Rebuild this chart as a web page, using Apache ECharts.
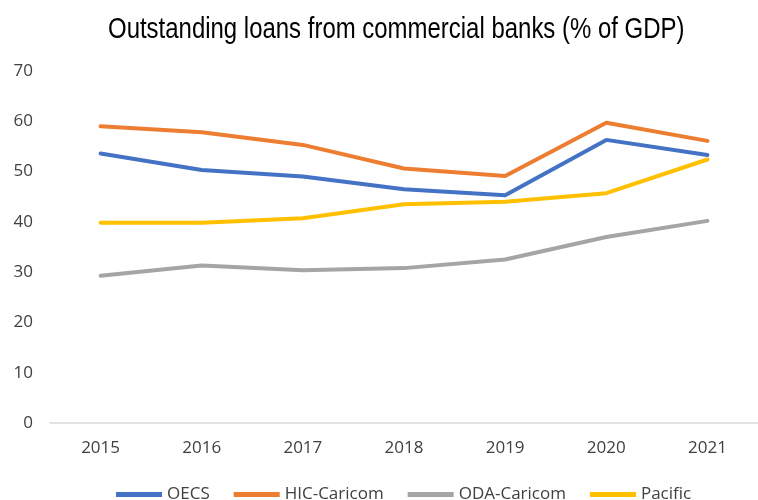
<!DOCTYPE html>
<html>
<head>
<meta charset="utf-8">
<script src="https://cdn.jsdelivr.net/npm/echarts@6/dist/echarts.min.js"></script>
<style>
  html, body { margin: 0; padding: 0; background: #ffffff; }
  #chart { width: 758px; height: 500px; }
</style>
</head>
<body>
<div id="chart"></div>
<script>
// Outstanding loans from commercial banks, % of GDP
const chartTitle = 'Outstanding loans from commercial banks (% of GDP)';
const years = ['2015', '2016', '2017', '2018', '2019', '2020', '2021'];
const oecs = [53.6, 50.3, 49.0, 46.5, 45.3, 56.3, 53.3];
const hicCaricom = [59.0, 57.8, 55.3, 50.6, 49.1, 59.7, 56.1];
const odaCaricom = [29.3, 31.3, 30.4, 30.8, 32.5, 37.0, 40.2];
const pacific = [39.8, 39.8, 40.7, 43.5, 44.0, 45.7, 52.4];

const labelFont = '"Open Sans", "Noto Sans", sans-serif';

function lineSeries(name, data, color) {
  return {
    name: name,
    type: 'line',
    data: data,
    symbol: 'none',
    lineStyle: { color: color, width: 4, cap: 'round', join: 'round' },
    itemStyle: { color: color }
  };
}

const chart = echarts.init(document.getElementById('chart'), null, { renderer: 'canvas' });
chart.setOption({
  backgroundColor: '#ffffff',
  animation: false,
  // Condensed title: regular sans squeezed horizontally
  graphic: [{
    type: 'text',
    x: 108,
    y: 15,
    scaleX: 0.826,
    style: {
      text: chartTitle,
      fontFamily: '"Liberation Sans", Arial, sans-serif',
      fontSize: 29,
      fill: '#000000',
      verticalAlign: 'top',
      align: 'left'
    }
  }],
  legend: {
    left: 111,
    top: 481,
    itemWidth: 46,
    itemHeight: 5,
    itemGap: 24,
    icon: 'rect',
    textStyle: { fontFamily: labelFont, fontSize: 17, color: '#404040' },
    data: ['OECS', 'HIC-Caricom', 'ODA-Caricom', 'Pacific']
  },
  grid: { left: 50, top: 71, width: 722, height: 352 },
  xAxis: {
    type: 'category',
    data: years,
    boundaryGap: true,
    axisLine: { lineStyle: { color: '#d9d9d9', width: 1.5 } },
    axisTick: { show: false },
    axisLabel: { fontFamily: labelFont, fontSize: 17, color: '#404040', margin: 17 }
  },
  yAxis: {
    type: 'value',
    min: 0,
    max: 70,
    interval: 10,
    axisLine: { show: false },
    axisTick: { show: false },
    splitLine: { show: false },
    axisLabel: { fontFamily: labelFont, fontSize: 17, color: '#404040', margin: 17 }
  },
  series: [
    lineSeries('OECS', oecs, '#4472C4'),
    lineSeries('HIC-Caricom', hicCaricom, '#ED7D31'),
    lineSeries('ODA-Caricom', odaCaricom, '#A5A5A5'),
    lineSeries('Pacific', pacific, '#FFC000')
  ]
});
</script>
</body>
</html>
